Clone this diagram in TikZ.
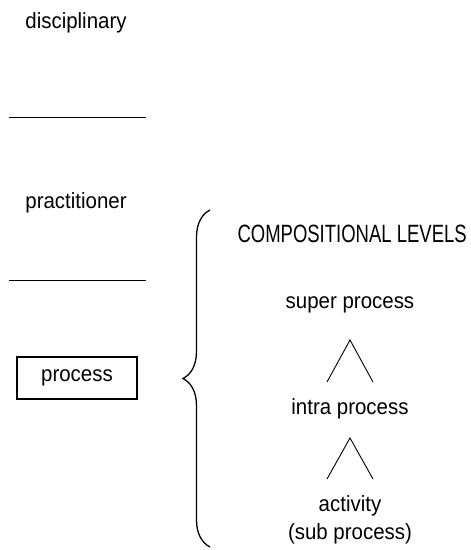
\documentclass[tikz,border=0pt]{standalone}
\usepackage{fontspec}
\setmainfont[FakeStretch=0.93]{Liberation Sans}
\newfontfamily\capsfont[FakeStretch=0.74]{Liberation Sans}
\usetikzlibrary{decorations.pathreplacing}
\begin{document}
\begin{tikzpicture}
[x=1pt,y=-1pt,line width=1pt,
 lvl/.style={font=\fontsize{22}{28}\selectfont,inner sep=0pt,align=center},
 hat/.style={line width=0.9pt}]
\useasboundingbox (0,0) rectangle (471,550);
% left column
\node[lvl] (disc) at (76,23) {disciplinary};
\draw (9,117) -- (146,117);
\node[lvl] (prac) at (76,203) {practitioner};
\draw (9,280) -- (146,280);
\node[lvl,draw,line width=1.3pt,minimum width=120pt,minimum height=42pt] (proc) at (77,378) {process};
% brace
\draw[line width=1.3pt,decorate,decoration={brace,amplitude=27pt}]
	(210,547) -- (210,210);
% right column
\node[lvl,anchor=west,font=\capsfont\fontsize{25}{28}\selectfont] (comp) at (237,234) {COMPOSITIONAL LEVELS};
\node[lvl] (super) at (350,305) {super process};
\node[lvl] (intra) at (350,409) {intra process};
\node[lvl] (act) at (350,520) {activity\\(sub process)};
\coordinate (a1) at (350,340);
\coordinate (a2) at (350,438);
\draw[hat] (327,382) -- (a1) -- (373,382);
\draw[hat] (327,479) -- (a2) -- (373,479);
\end{tikzpicture}
\end{document}
